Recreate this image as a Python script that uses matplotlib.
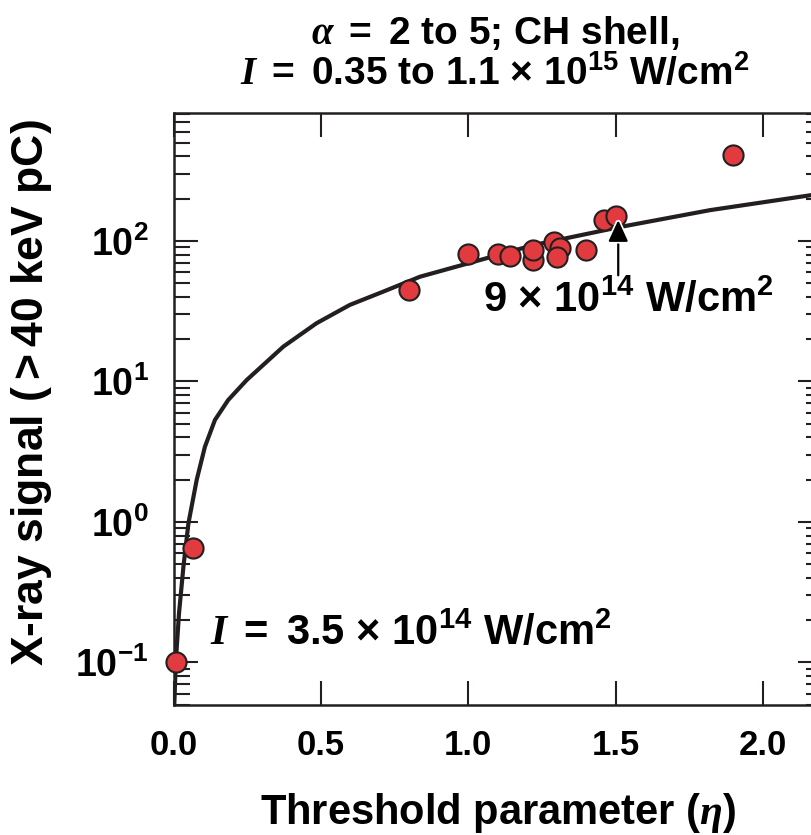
import matplotlib
matplotlib.use("Agg")
import matplotlib.pyplot as plt
from matplotlib import font_manager
from matplotlib.ticker import LogLocator, NullFormatter, FixedLocator
import matplotlib.patheffects as pe

# ---------------- data ----------------
eta_pts = [0.008, 0.067, 0.80, 1.00, 1.10, 1.14, 1.22, 1.22, 1.29, 1.31, 1.30, 1.40, 1.46, 1.50, 1.90]
sig_pts = [0.10, 0.65, 45, 81, 81, 78, 73, 86, 99, 89, 77, 86, 141, 151, 410]

eta_fit = [0.002, 0.007, 0.018, 0.033, 0.050, 0.078, 0.106, 0.140, 0.185, 0.248,
           0.372, 0.485, 0.598, 0.711, 0.836, 1.00, 1.221, 1.516, 1.821, 2.167, 2.2]
sig_fit = [0.05, 0.10, 0.223, 0.48, 0.977, 1.99, 3.43, 5.32, 7.38, 10.25,
           17.7, 26.0, 35.1, 43.6, 55.7, 69.4, 93.6, 126, 166, 212.7, 218]

ytick_vals = [0.1, 1, 10, 100]
ytick_labels = [r'$\mathbf{10^{-1}}$', r'$\mathbf{10^{0}}$', r'$\mathbf{10^{1}}$', r'$\mathbf{10^{2}}$']
xtick_vals = [0.0, 0.5, 1.0, 1.5, 2.0]
xtick_labels = ['0.0', '0.5', '1.0', '1.5', '2.0']

# ---------------- fonts ----------------
names = {f.name for f in font_manager.fontManager.ttflist}
TXT = 'Liberation Sans Narrow' if 'Liberation Sans Narrow' in names else 'Liberation Sans'
FS = 30      # labels, annotations
FSH = 28     # title
FSX = 25     # x tick labels
FSY = 27     # y tick labels

plt.rcParams['font.family'] = [TXT, 'DejaVu Sans']
plt.rcParams['font.weight'] = 'bold'
plt.rcParams['mathtext.fontset'] = 'custom'
plt.rcParams['mathtext.rm'] = TXT
plt.rcParams['mathtext.bf'] = TXT + ':bold'
plt.rcParams['mathtext.it'] = 'Liberation Serif:italic:bold'
plt.rcParams['mathtext.sf'] = TXT + ':bold'

INK = '#231F20'
RED = '#E23B3F'

fig = plt.figure(figsize=(8.12, 8.35), dpi=100)
ax = fig.add_axes([173.7 / 812, 1 - 705 / 835, (821.8 - 173.7) / 812, (705 - 112.7) / 835])

ax.plot(eta_fit, sig_fit, color=INK, lw=3.0, zorder=2, solid_capstyle='butt',
        solid_joinstyle='round')
ax.plot(eta_pts, sig_pts, 'o', ms=14.5, mfc=RED, mec=INK, mew=1.5, zorder=3, clip_on=False)

ax.set_yscale('log')
ax.set_xlim(0, 2.2)
ax.set_ylim(0.0497, 820)

ax.set_xticks(xtick_vals)
ax.set_xticklabels(xtick_labels)
ax.yaxis.set_major_locator(FixedLocator(ytick_vals))
ax.set_yticklabels(ytick_labels)
ax.yaxis.set_minor_locator(LogLocator(base=10, subs=[2, 3, 4, 5, 6, 7, 8, 9], numticks=20))
ax.yaxis.set_minor_formatter(NullFormatter())

ax.tick_params(axis='both', which='major', direction='in', length=17, width=1.5,
               color=INK, top=True, right=True)
ax.tick_params(axis='both', which='minor', direction='in', length=11.5, width=1.5,
               color=INK, top=True, right=True)
ax.tick_params(axis='x', which='major', pad=17, labelsize=FSX)
ax.tick_params(axis='y', which='major', pad=18, labelsize=FSY)
for s in ax.spines.values():
    s.set_linewidth(1.8)
    s.set_color(INK)

ax.set_xlabel(r'Threshold parameter $\mathrm{(}\mathit{\eta}\mathrm{)}$', fontsize=FS, fontweight='bold')
ax.xaxis.set_label_coords(0.5, -0.145)
ax.set_ylabel(r'X-ray signal $\mathrm{(>}\mathbf{40}$ keV pC$\mathrm{)}$', fontsize=32, fontweight='bold')
ax.yaxis.set_label_coords(-0.185, 0.528)

# title
cx = 495 / 812
fig.text(cx, 1 - 44 / 835, r'$\mathit{\alpha}\ \mathrm{=}$ 2 to 5; CH shell,', ha='center',
         va='baseline', fontsize=FSH, fontweight='bold')
fig.text(cx, 1 - 85 / 835,
         r'$\mathit{I}\ \mathrm{=}$ 0.35 to 1.1 $\mathrm{\times}$ $\mathbf{10^{15}}$ W/cm$\mathbf{^{2}}$',
         ha='center', va='baseline', fontsize=FSH, fontweight='bold')

# annotations
ax.text(0.123, 0.133, r'$\mathit{I}\ \mathrm{=}$ 3.5 $\mathrm{\times}$ $\mathbf{10^{14}}$ W/cm$\mathbf{^{2}}$',
        ha='left', va='baseline', fontsize=FS, fontweight='bold', zorder=5)
ax.text(1.05, 31.2, r'9 $\mathrm{\times}$ $\mathbf{10^{14}}$ W/cm$\mathbf{^{2}}$',
        ha='left', va='baseline', fontsize=FS, fontweight='bold', zorder=5)
ax.annotate('', xy=(1.509, 141), xytext=(1.509, 57),
            arrowprops=dict(arrowstyle='-|>,head_length=1.3,head_width=0.6', lw=1.6,
                            color='black', shrinkA=0, shrinkB=0, mutation_scale=10,
                            path_effects=[pe.withStroke(linewidth=4, foreground='white')]),
            zorder=6)

fig.savefig('out.png', dpi=100)
